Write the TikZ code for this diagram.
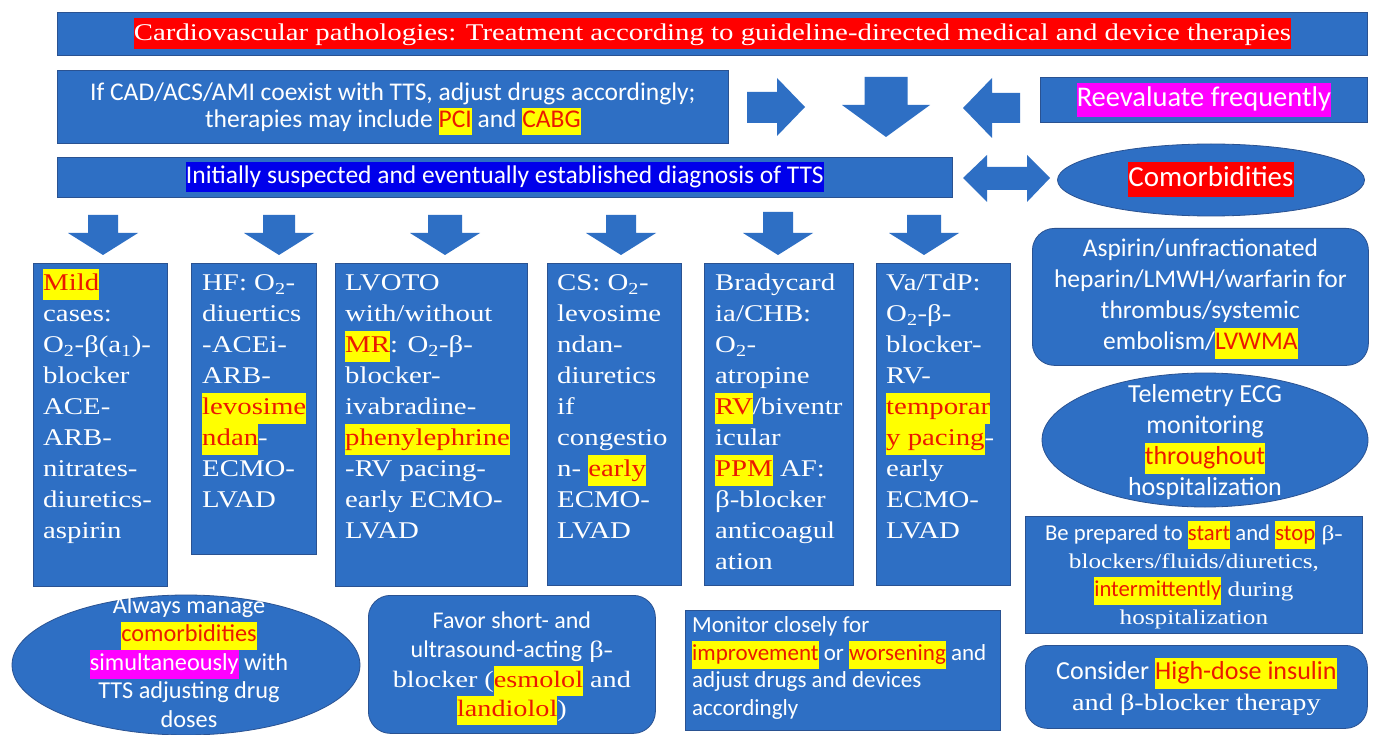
\documentclass[tikz,border=0pt]{standalone}
\usepackage{fontspec}
\setmainfont{Liberation Serif}[FakeStretch=1.2]
\newfontfamily\sansf{Carlito}
\usetikzlibrary{shapes.geometric}
\definecolor{bblue}{RGB}{46,111,196}
\definecolor{bline}{RGB}{42,82,145}
\definecolor{hlred}{RGB}{235,25,0}
\definecolor{hlyel}{RGB}{255,255,0}
\definecolor{diagblue}{RGB}{0,0,235}
\definecolor{hlmag}{RGB}{255,0,255}
\definecolor{tred}{RGB}{255,0,0}
\newcommand\hly[1]{{\setlength{\fboxsep}{0pt}\colorbox{hlyel}{\strut\textcolor{hlred}{#1}}}}
\newcommand\hlc[2]{{\setlength{\fboxsep}{0pt}\colorbox{#1}{\strut #2}}}
\newcommand\dnarr[6]{\fill[bblue] (#1-#4,#2) -- (#1+#4,#2) -- (#1+#4,#6) -- (#1+#5,#6) -- (#1,#3) -- (#1-#5,#6) -- (#1-#4,#6) -- cycle;}
\tikzset{
  box/.style={draw=bline, line width=0.8pt, fill=bblue, inner sep=0pt, anchor=north west},
  rbox/.style={box, rounded corners=22pt},
  ell/.style={ellipse, draw=bline, line width=0.8pt, fill=bblue, inner sep=0pt},
  coltext/.style={anchor=north west, inner sep=0pt, align=left, text=white, font=\fontsize{24}{31}\selectfont},
  ctext/.style={inner sep=0pt, align=center, text=white},
}
\begin{document}
\begin{tikzpicture}[x=1pt,y=-1pt]
\useasboundingbox[fill=white] (0,0) rectangle (1378,735);
% title
\node[box, minimum width=1310pt, minimum height=43pt] (title) at (57,12) {};
\node[ctext, font=\fontsize{24}{31}\selectfont] (titlet) at (title.center) {\hlc{tred}{Cardiovascular pathologies: Treatment according to guideline-directed medical and device therapies}};
% CAD box
\node[box, minimum width=671pt, minimum height=73pt] (cad) at (57,70) {};
\node[ctext, font=\sansf\fontsize{25.5}{27}\selectfont] (cadt) at ([yshift=-2pt]cad.center) {If CAD/ACS/AMI coexist with TTS, adjust drugs accordingly;\\ therapies may include \hly{PCI} and \hly{CABG}};
% arrows top
\fill[bblue] (747,92) -- (777,92) -- (777,78) -- (805,107) -- (777,136) -- (777,123) -- (747,123) -- cycle;
\dnarr{886}{77}{137}{21.5}{44}{105}
\fill[bblue] (1020,93) -- (992,93) -- (992,78) -- (963,108) -- (992,138) -- (992,123) -- (1020,123) -- cycle;
% reevaluate
\node[box, minimum width=327pt, minimum height=45pt] (reev) at (1040,77) {};
\node[ctext, font=\sansf\fontsize{28.5}{34}\selectfont] (reevt) at (reev.center) {\hlc{hlmag}{Reevaluate frequently}};
% diagnosis
\node[box, minimum width=895pt, minimum height=40pt] (diag) at (57,157) {};
\node[ctext, font=\sansf\fontsize{25.5}{30}\selectfont] (diagt) at (diag.center) {\hlc{diagblue}{Initially suspected and eventually established diagnosis of TTS}};
% double arrow
\fill[bblue] (963,178) -- (987,155) -- (987,167) -- (1027,167) -- (1027,155) -- (1050,178) -- (1027,202) -- (1027,190) -- (987,190) -- (987,202) -- cycle;
% comorbidities
\node[ell, minimum width=307pt, minimum height=72pt] (como) at (1211,180) {};
\node[ctext, font=\sansf\fontsize{29}{35}\selectfont] (comot) at (como.center) {\hlc{tred}{Comorbidities}};
% down arrows row
\dnarr{103}{215}{255}{15}{35}{233}
\dnarr{279}{215}{255}{16}{35}{233}
\dnarr{445}{215}{255}{17}{35}{233}
\dnarr{621}{215}{255}{15}{35}{233}
\dnarr{778}{212}{255}{15}{35}{233}
\dnarr{924}{215}{255}{17}{35}{233}
% columns
\node[box, minimum width=134pt, minimum height=323pt] (c1) at (33,263) {};
\node[coltext] (c1t) at ([xshift=10pt,yshift=-6pt]c1.north west) {\hly{Mild}\\ cases:\\ O\textsubscript{2}-β(a\textsubscript{1})-\\ blocker\\ ACE-\\ ARB-\\ nitrates-\\ diuretics-\\ aspirin};
\node[box, minimum width=125pt, minimum height=291pt] (c2) at (191,263) {};
\node[coltext] (c2t) at ([xshift=11pt,yshift=-6pt]c2.north west) {\strut HF: O\textsubscript{2}-\\ diuertics\\ -ACEi-\\ ARB-\\ \hly{levosime}\\ \hly{ndan}-\\ ECMO-\\ LVAD};
\node[box, minimum width=192pt, minimum height=323pt] (c3) at (335,263) {};
\node[coltext] (c3t) at ([xshift=10pt,yshift=-6pt]c3.north west) {\strut LVOTO\\ with/without\\ \hly{MR}: O\textsubscript{2}-β-\\ blocker-\\ ivabradine-\\ \hly{phenylephrine}\\ -RV pacing-\\ early ECMO-\\ LVAD};
\node[box, minimum width=134pt, minimum height=322pt] (c4) at (547,263) {};
\node[coltext] (c4t) at ([xshift=10pt,yshift=-6pt]c4.north west) {\strut CS: O\textsubscript{2}-\\ levosime\\ ndan-\\ diuretics\\ if\\ congestio\\ n- \hly{early}\\ ECMO-\\ LVAD};
\node[box, minimum width=149pt, minimum height=322pt] (c5) at (704,263) {};
\node[coltext] (c5t) at ([xshift=11pt,yshift=-6pt]c5.north west) {\strut Bradycard\\ ia/CHB:\\ O\textsubscript{2}-\\ atropine\\ \hly{RV}/biventr\\ icular\\ \hly{PPM} AF:\\ β-blocker\\ anticoagul\\ ation};
\node[box, minimum width=134pt, minimum height=322pt] (c6) at (876,263) {};
\node[coltext] (c6t) at ([xshift=10pt,yshift=-6pt]c6.north west) {\strut Va/TdP:\\ O\textsubscript{2}-β-\\ blocker-\\ RV-\\ \hly{temporar}\\ \hly{y pacing}-\\ early\\ ECMO-\\ LVAD};
% right column
\node[rbox, minimum width=336pt, minimum height=137pt] (asp) at (1032,228) {};
\node[ctext, font=\sansf\fontsize{25.5}{31}\selectfont] (aspt) at ([yshift=-2pt]asp.center) {Aspirin/unfractionated\\ heparin/LMWH/warfarin for\\ thrombus/systemic\\ embolism/\hly{LVWMA}};
\node[ell, minimum width=326pt, minimum height=134pt] (tele) at (1205,440) {};
\node[ctext, font=\sansf\fontsize{26}{31}\selectfont] (telet) at ([yshift=-2pt]tele.center) {Telemetry ECG\\ monitoring\\ \hly{throughout}\\ hospitalization};
\node[box, minimum width=337pt, minimum height=117pt] (prep) at (1025,516) {};
\node[ctext, font=\fontsize{21}{28}\selectfont] (prept) at (prep.center) {{\sansf\fontsize{22.7}{28}\selectfont Be prepared to \hly{start} and \hly{stop}} β-\\ blockers/fluids/diuretics,\\ {\sansf\fontsize{22.7}{28}\selectfont\hly{intermittently}} during\\ hospitalization};
\node[rbox, minimum width=342pt, minimum height=83pt] (cons) at (1025,645) {};
\node[ctext, font=\fontsize{23.6}{31}\selectfont] (const) at (cons.center) {{\sansf\fontsize{26}{31}\selectfont Consider \hly{High-dose insulin}}\\ and β-blocker therapy};
% bottom row
\node[ell, minimum width=348pt, minimum height=140pt] (alw) at (186,665) {};
\node[ctext, font=\sansf\fontsize{24.3}{28.5}\selectfont] (alwt) at (189,662) {Always manage\\ \hly{comorbidities}\\ \hlc{hlmag}{simultaneously} with\\ TTS adjusting drug\\ doses};
\node[rbox, minimum width=287pt, minimum height=138pt] (fav) at (368,595) {};
\node[ctext, font=\fontsize{23.5}{29.5}\selectfont] (favt) at ([yshift=-4pt]fav.center) {{\sansf\fontsize{24}{29.5}\selectfont Favor short- and}\\ {\sansf\fontsize{24}{29.5}\selectfont ultrasound-acting} β-\\ blocker (\hly{esmolol} and\\ \hly{landiolol})};
\node[box, minimum width=315pt, minimum height=120pt] (mon) at (685,610) {};
\node[anchor=north west, inner sep=0pt, align=left, text=white, font=\sansf\fontsize{23}{27.7}\selectfont] (mont) at ([xshift=7pt,yshift=-3pt]mon.north west) {\strut Monitor closely for\\ \hly{improvement} or \hly{worsening} and\\ adjust drugs and devices\\ accordingly};
\end{tikzpicture}
\end{document}
